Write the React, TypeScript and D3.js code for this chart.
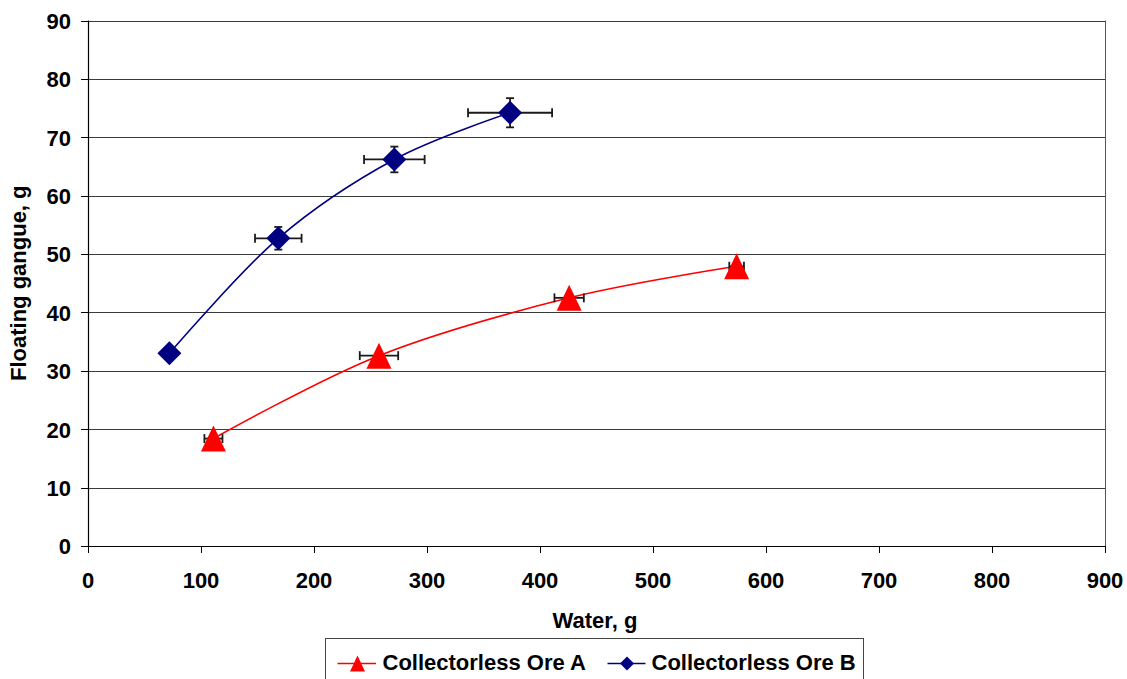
import React from "react";
import * as d3 from "d3";

const xTicks = [0, 100, 200, 300, 400, 500, 600, 700, 800, 900];
const yTicks = [0, 10, 20, 30, 40, 50, 60, 70, 80, 90];

const seriesAX = [111, 257.5, 425.8, 574];
const seriesAY = [18.4, 32.6, 42.5, 47.9];
const seriesAXErr = [8, 17, 13, 6.5];
const seriesAYErr = [0, 0, 0, 0];

const seriesBX = [72, 168.4, 271.1, 373.5];
const seriesBY = [33.0, 52.7, 66.2, 74.2];
const seriesBXErr = [0, 20.6, 26.8, 37.2];
const seriesBYErr = [0, 1.94, 2.2, 2.5];

const seriesNames = ["Collectorless Ore A", "Collectorless Ore B"];
const xTitle = "Water, g";
const yTitle = "Floating gangue, g";

const W = 1127;
const H = 679;
const left = 88;
const right = 1105;
const top = 20.5;
const bottom = 546;
const FONT = "'Liberation Sans', Arial, Helvetica, sans-serif";
const FS = 22;

export default function App() {
  const x = d3.scaleLinear().domain([0, 900]).range([left, right]);
  const y = d3.scaleLinear().domain([0, 90]).range([bottom, top]);
  const line = d3
    .line<[number, number]>()
    .x((d) => x(d[0]))
    .y((d) => y(d[1]))
    .curve(d3.curveCardinal.tension(0));

  const ptsA: [number, number][] = seriesAX.map((v, i) => [v, seriesAY[i]]);
  const ptsB: [number, number][] = seriesBX.map((v, i) => [v, seriesBY[i]]);

  const errBars = (
    xs: number[],
    ys: number[],
    xe: number[],
    ye: number[],
    key: string
  ) =>
    xs.map((xv, i) => {
      const cx = x(xv);
      const cy = y(ys[i]);
      const els: React.ReactNode[] = [];
      if (xe[i] > 0) {
        const x1 = x(xv - xe[i]);
        const x2 = x(xv + xe[i]);
        els.push(
          <g key={`${key}x${i}`} stroke="#1a1a1a" strokeWidth={1.8}>
            <line x1={x1} x2={x2} y1={cy} y2={cy} />
            <line x1={x1} x2={x1} y1={cy - 4.5} y2={cy + 4.5} />
            <line x1={x2} x2={x2} y1={cy - 4.5} y2={cy + 4.5} />
          </g>
        );
      }
      if (ye[i] > 0) {
        const y1 = y(ys[i] - ye[i]);
        const y2 = y(ys[i] + ye[i]);
        els.push(
          <g key={`${key}y${i}`} stroke="#1a1a1a" strokeWidth={1.8}>
            <line x1={cx} x2={cx} y1={y1} y2={y2} />
            <line x1={cx - 4} x2={cx + 4} y1={y1} y2={y1} />
            <line x1={cx - 4} x2={cx + 4} y1={y2} y2={y2} />
          </g>
        );
      }
      return els;
    });

  const tri = (cx: number, cy: number, w: number, h: number) =>
    `M${cx},${cy - h / 2}L${cx + w / 2},${cy + h / 2}L${cx - w / 2},${cy + h / 2}Z`;
  const dia = (cx: number, cy: number, r: number) =>
    `M${cx},${cy - r}L${cx + r},${cy}L${cx},${cy + r}L${cx - r},${cy}Z`;

  const plotMidX = (left + right) / 2;
  const plotMidY = (top + bottom) / 2;

  return (
    <svg
      width={W}
      height={H}
      style={{ position: "absolute", left: 0, top: 0, background: "#fff" }}
      fontFamily={FONT}
      fontWeight="bold"
    >
      <rect x={0} y={0} width={W} height={H} fill="#fff" />
      {yTicks.filter((t) => t > 0).map((t) => (
        <line
          key={`g${t}`}
          x1={left}
          x2={right}
          y1={Math.round(y(t)) + 0.5}
          y2={Math.round(y(t)) + 0.5}
          stroke="#3a3a3a"
          strokeWidth={1}
        />
      ))}
      <line x1={right + 0.5} x2={right + 0.5} y1={top} y2={bottom} stroke="#555" strokeWidth={1} />
      <line x1={left + 0.5} x2={left + 0.5} y1={top} y2={bottom} stroke="#000" strokeWidth={1.2} />
      <line x1={left} x2={right + 1} y1={bottom + 0.5} y2={bottom + 0.5} stroke="#000" strokeWidth={1.2} />
      {yTicks.map((t) => (
        <g key={`yt${t}`}>
          <line x1={left - 7} x2={left} y1={Math.round(y(t)) + 0.5} y2={Math.round(y(t)) + 0.5} stroke="#000" strokeWidth={1} />
          <text x={71} y={y(t) + 8.3} textAnchor="end" fontSize={FS} fill="#000">
            {t}
          </text>
        </g>
      ))}
      {xTicks.map((t) => (
        <g key={`xt${t}`}>
          <line x1={Math.round(x(t)) + 0.5} x2={Math.round(x(t)) + 0.5} y1={bottom} y2={bottom + 7} stroke="#000" strokeWidth={1} />
          <text x={x(t)} y={588} textAnchor="middle" fontSize={FS} fill="#000">
            {t}
          </text>
        </g>
      ))}
      <text x={plotMidX - 1.5} y={627.5} textAnchor="middle" fontSize={FS} fill="#000">
        {xTitle}
      </text>
      <text
        transform={`translate(25.5,${plotMidY}) rotate(-90)`}
        textAnchor="middle"
        fontSize={FS}
        fill="#000"
      >
        {yTitle}
      </text>
      <path d={line(ptsA) || ""} fill="none" stroke="#ff0000" strokeWidth={1.6} />
      <path d={line(ptsB) || ""} fill="none" stroke="#000080" strokeWidth={1.6} />
      {errBars(seriesAX, seriesAY, seriesAXErr, seriesAYErr, "a")}
      {errBars(seriesBX, seriesBY, seriesBXErr, seriesBYErr, "b")}
      {ptsA.map((p, i) => (
        <path key={`ma${i}`} d={tri(x(p[0]), y(p[1]), 25, 26)} fill="#ff0000" />
      ))}
      {ptsB.map((p, i) => (
        <path key={`mb${i}`} d={dia(x(p[0]), y(p[1]), 12)} fill="#000080" />
      ))}
      <rect x={325.5} y={638.5} width={538} height={60} fill="#fff" stroke="#444" strokeWidth={1} />
      <line x1={337.5} x2={376} y1={663.5} y2={663.5} stroke="#ff0000" strokeWidth={1.6} />
      <path d={tri(357.5, 663.5, 15, 16)} fill="#ff0000" />
      <text x={382.5} y={670} fontSize={FS} fill="#000">
        {seriesNames[0]}
      </text>
      <line x1={607.5} x2={645.5} y1={663.5} y2={663.5} stroke="#000080" strokeWidth={1.6} />
      <path d={dia(627, 663.5, 7)} fill="#000080" />
      <text x={651.5} y={670} fontSize={FS} fill="#000">
        {seriesNames[1]}
      </text>
    </svg>
  );
}
